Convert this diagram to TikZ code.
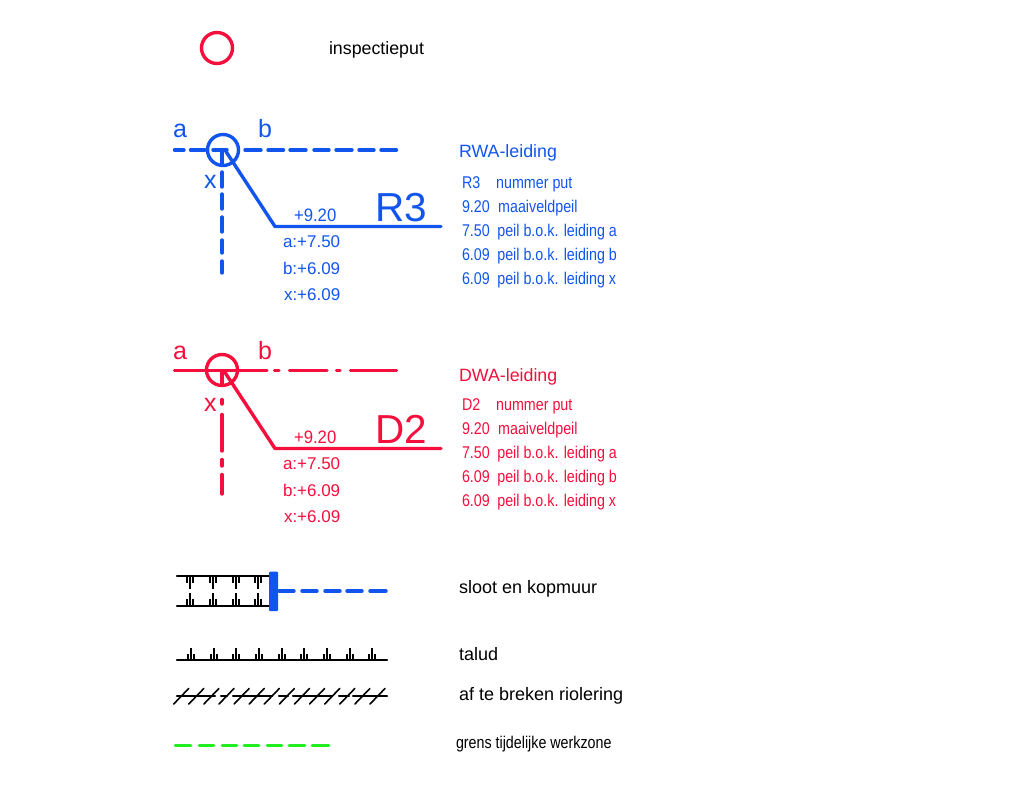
\documentclass[tikz,border=0pt]{standalone}
\usepackage{fontspec}
\usepackage{graphicx}
\setmainfont{Liberation Sans}
\definecolor{rwa}{RGB}{17,85,238}
\definecolor{dwa}{RGB}{245,15,60}
\definecolor{werk}{RGB}{34,238,34}
\newcommand{\nar}[1]{\scalebox{.84}[1]{#1}}
\tikzset{
  txt/.style={anchor=base west,inner sep=0pt,outer sep=0pt,font=\fontsize{#1}{#1}\selectfont},
  txt/.default=17,
  put/.style={circle,draw,line width=3.4pt,minimum size=31pt,inner sep=0pt},
  pipe/.style={line width=3.4pt,line cap=round},
  blk/.style={line width=2.1pt,black,line cap=round},
  tick/.style={line width=2pt,black},
  grn/.style={line width=2.6pt,werk,line cap=round}
}
\begin{document}
\begin{tikzpicture}[x=1pt,y=-1pt]
\useasboundingbox (0,0) rectangle (1032,787);
% inspectieput
\node[put,dwa] (ip) at (217,48) {};
\node[txt=17.8] (iptxt) at (329,54) {inspectieput};
% RWA
\begin{scope}[rwa]
\node[put] (pr) at (223,150) {};
\coordinate (pra) at (225,150);
\coordinate (prb) at (275,226.5);
\coordinate (prc) at (441,226.5);
\draw[pipe,line join=round] (pra) -- (prb) -- (prc);
\foreach \p/\q in {174.5/184,190.5/205,213/227,245/261,268/283.5,290/306,314/329,336/352,359/374,381/396.5}
  \draw[pipe] (\p,150) -- (\q,150);
\foreach \p/\q in {151/165,172/187,194/209,217/232,240/253,261/273}
  \draw[pipe] (222,\p) -- (222,\q);
\node[txt=25] (ra) at (173,137) {a};
\node[txt=25] (rb) at (258,137) {b};
\node[txt=25] (rx) at (204,188) {x};
\node[txt=40.5] (rn) at (375,221) {R3};
\node[txt=18] (r0) at (294,221) {\scalebox{.93}[1]{+9.20}};
\node[txt] (r1) at (283,247) {a:+7.50};
\node[txt] (r2) at (283,274) {b:+6.09};
\node[txt] (r3) at (284,300.5) {x:+6.09};
\node[txt=17.8] (rt) at (459,157) {RWA-leiding};
\node[txt] (l1) at (462,188.5) {\nar{R3\hspace{19pt}nummer put}};
\node[txt] (l2) at (462,212.5) {\nar{9.20\hspace{10pt}maaiveldpeil}};
\node[txt] (l3) at (462,236.5) {\nar{7.50\hspace{9pt}peil b.o.k. leiding a}};
\node[txt] (l4) at (462,260.5) {\nar{6.09\hspace{9pt}peil b.o.k. leiding b}};
\node[txt] (l5) at (462,284.5) {\nar{6.09\hspace{9pt}peil b.o.k. leiding x}};
\end{scope}
% DWA
\begin{scope}[dwa]
\node[put] (pd) at (222,370) {};
\coordinate (pda) at (224,371);
\coordinate (pdb) at (275,448.5);
\coordinate (pdc) at (441,448.5);
\draw[pipe,line join=round] (pda) -- (pdb) -- (pdc);
\foreach \p/\q in {174.5/267,274.5/279,289.5/327,336.5/340,350.5/396.5}
  \draw[pipe] (\p,370.5) -- (\q,370.5);
\foreach \p/\q in {371/384,399.5/404,414.5/451,459.5/466,474.5/494}
  \draw[pipe] (222,\p) -- (222,\q);
\node[txt=25] (da) at (173,359) {a};
\node[txt=25] (db) at (258,359) {b};
\node[txt=25] (dx) at (204,411) {x};
\node[txt=40.5] (dn) at (375,443) {D2};
\node[txt=18] (d0) at (294,443) {\scalebox{.93}[1]{+9.20}};
\node[txt] (d1) at (283,469) {a:+7.50};
\node[txt] (d2) at (283,496) {b:+6.09};
\node[txt] (d3) at (284,522.5) {x:+6.09};
\node[txt=17.8] (dt) at (459,381) {DWA-leiding};
\node[txt] (m1) at (462,410.5) {\nar{D2\hspace{19pt}nummer put}};
\node[txt] (m2) at (462,434.5) {\nar{9.20\hspace{10pt}maaiveldpeil}};
\node[txt] (m3) at (462,458.5) {\nar{7.50\hspace{9pt}peil b.o.k. leiding a}};
\node[txt] (m4) at (462,482.5) {\nar{6.09\hspace{9pt}peil b.o.k. leiding b}};
\node[txt] (m5) at (462,506.5) {\nar{6.09\hspace{9pt}peil b.o.k. leiding x}};
\end{scope}
% sloot en kopmuur
\draw[blk] (177,576) -- (270,576);
\draw[blk] (177,606) -- (270,606);
\foreach \x in {190,213,236,258}{
  \draw[tick] (\x,576) -- (\x,589);
  \draw[tick] (\x-3,576) -- (\x-3,583);
  \draw[tick] (\x+3,576) -- (\x+3,583);
  \draw[tick] (\x,606) -- (\x,593);
  \draw[tick] (\x-3,606) -- (\x-3,599);
  \draw[tick] (\x+3,606) -- (\x+3,599);
}
\fill[rwa,rounded corners=1pt] (269,571.5) rectangle (278,611);
\foreach \p/\q in {279/294,302/317,325/340,347/362,370/386}
  \draw[pipe,rwa] (\p,591) -- (\q,591);
\node[txt=18] (s1) at (459,593) {sloot en kopmuur};
% talud
\draw[blk] (177,660) -- (387,660);
\foreach \x in {191,214,236,259,282,304,327,350,372}{
  \draw[tick] (\x,660) -- (\x,648);
  \draw[tick] (\x-3,660) -- (\x-3,654);
  \draw[tick] (\x+3,660) -- (\x+3,654);
}
\node[txt=18] (s2) at (459,660) {talud};
% af te breken riolering
\foreach \p/\q in {177/215,221/227,233/272,279/288,293/332,339/349,353/387}
  \draw[blk] (\p,696) -- (\q,696);
\foreach \k in {0,...,13}
  \draw[line width=1.6pt,black,line cap=round] (173.7+15.1*\k,704) -- (188.7+15.1*\k,688.5);
\node[txt=18] (s3) at (459,700) {af te breken riolering};
% grens
\foreach \p/\q in {175/191,199/214,222/237,244/259,267/282,289/305,312/329}
  \draw[grn] (\p,745.3) -- (\q,745.3);
\node[txt] (s4) at (456,748.5) {\scalebox{.84}[1]{grens tijdelijke werkzone}};
\end{tikzpicture}
\end{document}
